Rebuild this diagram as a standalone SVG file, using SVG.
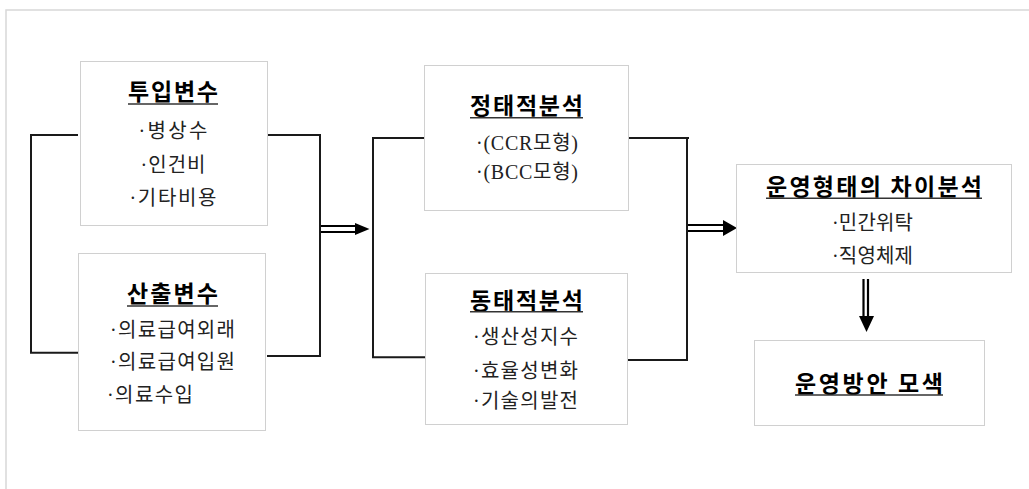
<svg xmlns="http://www.w3.org/2000/svg" width="1029" height="489" viewBox="0 0 1029 489">
<defs>
<style>
.frame{fill:none;stroke:#d8d8d8;stroke-width:1.5}
.box{fill:#fff;stroke:#d0d0d0;stroke-width:1}
.conn{fill:none;stroke:#1a1a1a;stroke-width:2}
.dbl{fill:none;stroke:#000;stroke-width:2.2}
.head{fill:#000;stroke:none}
.title{font-family:"Noto Sans CJK KR","Noto Sans",sans-serif;font-weight:bold;font-size:23px;fill:#000}
.item{font-family:"Liberation Serif","Noto Sans CJK KR",serif;font-size:20px;fill:#222}
.ul{stroke:#333;stroke-width:1.5}
</style>
</defs>
<rect width="1029" height="489" fill="#fff"/>
<path class="frame" d="M6,489 V10 H1029"/>

<g id="connectors">
<path class="conn" d="M78,135 H31 V352.7 H78"/>
<path class="conn" d="M268,135 H320 V356 H267"/>
<path class="conn" d="M425,138 H373 V357.3 H426"/>
<path class="conn" d="M629,138 H689 M687,138 V360 H628"/>
<g id="arrow1">
<line class="dbl" x1="321" y1="226" x2="357" y2="226"/>
<line class="dbl" x1="321" y1="232" x2="357" y2="232"/>
<polygon class="head" points="355,223 369.5,229 355,235"/>
</g>
<g id="arrow2">
<line class="dbl" x1="688" y1="225" x2="725" y2="225"/>
<line class="dbl" x1="688" y1="231" x2="725" y2="231"/>
<polygon class="head" points="723,220 737,228 723,236"/>
</g>
<g id="arrow3">
<line class="dbl" x1="863.5" y1="279" x2="863.5" y2="318"/>
<line class="dbl" x1="868" y1="279" x2="868" y2="318"/>
<polygon class="head" points="859,316 874,316 866.5,332"/>
</g>
</g>

<g id="node-input">
<rect class="box" x="80.5" y="61.5" width="187" height="164"/>
<text class="title" x="173" y="100" text-anchor="middle" textLength="90" lengthAdjust="spacing">투입변수</text>
<line class="ul" x1="128" y1="104" x2="218" y2="104"/>
<text class="item" x="173" y="138" text-anchor="middle" textLength="69" lengthAdjust="spacing">·병상수</text>
<text class="item" x="173" y="172" text-anchor="middle" textLength="65" lengthAdjust="spacing">·인건비</text>
<text class="item" x="173" y="205" text-anchor="middle" textLength="87" lengthAdjust="spacing">·기타비용</text>
</g>

<g id="node-output">
<rect class="box" x="78.5" y="253.5" width="187" height="177"/>
<text class="title" x="172.5" y="301.5" text-anchor="middle" textLength="91" lengthAdjust="spacing">산출변수</text>
<line class="ul" x1="127" y1="306" x2="218" y2="306"/>
<text class="item" x="110" y="337" textLength="125" lengthAdjust="spacing">·의료급여외래</text>
<text class="item" x="110" y="369" textLength="125" lengthAdjust="spacing">·의료급여입원</text>
<text class="item" x="107" y="402" textLength="86" lengthAdjust="spacing">·의료수입</text>
</g>

<g id="node-static">
<rect class="box" x="424.5" y="65.5" width="204" height="145"/>
<text class="title" x="526.5" y="113.5" text-anchor="middle" textLength="113" lengthAdjust="spacing">정태적분석</text>
<line class="ul" x1="470" y1="117.7" x2="583" y2="117.7"/>
<text class="item" x="476" y="149.5" textLength="102" lengthAdjust="spacing">·(CCR모형)</text>
<text class="item" x="476" y="179" textLength="102" lengthAdjust="spacing">·(BCC모형)</text>
</g>

<g id="node-dynamic">
<rect class="box" x="425.5" y="273.5" width="202" height="151"/>
<text class="title" x="526.5" y="308.5" text-anchor="middle" textLength="113" lengthAdjust="spacing">동태적분석</text>
<line class="ul" x1="470" y1="311.7" x2="583" y2="311.7"/>
<text class="item" x="473" y="344" textLength="105" lengthAdjust="spacing">·생산성지수</text>
<text class="item" x="473" y="378" textLength="105" lengthAdjust="spacing">·효율성변화</text>
<text class="item" x="473" y="408" textLength="105" lengthAdjust="spacing">·기술의발전</text>
</g>

<g id="node-diff">
<rect class="box" x="736.5" y="164.5" width="275" height="108"/>
<text class="title" x="874" y="195" text-anchor="middle" textLength="216" lengthAdjust="spacing">운영형태의 차이분석</text>
<line class="ul" x1="766" y1="198.3" x2="982" y2="198.3"/>
<text class="item" x="872.5" y="230" text-anchor="middle" textLength="81" lengthAdjust="spacing">·민간위탁</text>
<text class="item" x="872.5" y="263" text-anchor="middle" textLength="81" lengthAdjust="spacing">·직영체제</text>
</g>

<g id="node-plan">
<rect class="box" x="754.5" y="340.5" width="230" height="85"/>
<text class="title" x="869" y="392" text-anchor="middle" textLength="148" lengthAdjust="spacing">운영방안 모색</text>
<line class="ul" x1="795" y1="395" x2="943" y2="395"/>
</g>
</svg>
